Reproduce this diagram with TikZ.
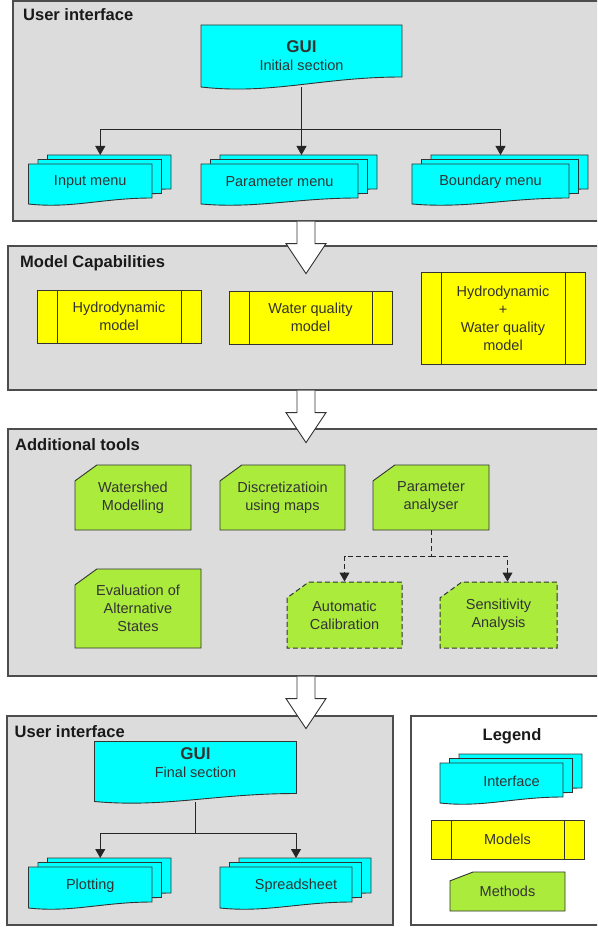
\documentclass[tikz,border=0pt]{standalone}
\usepackage{fontspec}
\setmainfont{Liberation Sans}
\usepackage{xcolor}
\usetikzlibrary{arrows.meta, shapes.misc, positioning, calc}
\definecolor{panelgray}{HTML}{DCDCDC}
\definecolor{framegray}{HTML}{4D4D4D}
\definecolor{guicyan}{HTML}{00FFFF}
\definecolor{modelyellow}{HTML}{FFFF00}
\definecolor{methodgreen}{HTML}{ABEB3C}

\tikzset{
    panel/.style={draw=framegray, line width=1.2pt, fill=panelgray},
    paneltitle/.style={font=\fontsize{16.5}{19}\selectfont\bfseries, text=black!90, anchor=west, inner sep=0pt},
    txt/.style={font=\fontsize{14.5}{18}\selectfont, align=center, text=black!80, inner sep=0pt},
    doc/.style={draw=black!80, fill=guicyan, line width=0.9pt},
    model/.style={txt, draw=black!80, fill=modelyellow, line width=0.9pt,
        path picture={
            \draw[black!80, line width=0.9pt]
                ([xshift=20pt]path picture bounding box.north west) -- ([xshift=20pt]path picture bounding box.south west)
                ([xshift=-20pt]path picture bounding box.north east) -- ([xshift=-20pt]path picture bounding box.south east);
        }},
    method/.style={txt, chamfered rectangle, chamfered rectangle corners=north west,
        chamfered rectangle angle=54, chamfered rectangle xsep=17pt,
        draw=black!80, fill=methodgreen, line width=0.9pt},
    dashedline/.style={dash pattern=on 5pt off 3pt, line width=1pt},
    arr/.style={-{Triangle[width=10pt,length=9pt]}, draw=black!85, line width=0.8pt},
    hollow/.style={draw=black!80, fill=white, line width=0.9pt}
}

% document shape: style, x1, y1, x2, y2 (left bottom), rise of the right end
\newcommand{\docshape}[6]{%
    \filldraw[#1] (#2,#3) -- (#4,#3) -- (#4,#5-#6)
        .. controls ({#2+0.6*(#4-#2)},#5-#6) and ({#2+0.35*(#4-#2)},#5+0.8*#6) .. (#2,#5) -- cycle;
}
% single document box with text
\newcommand{\docbox}[8][]{%
    \docshape{doc}{#3}{#4}{#5}{#6}{#7}
    \node[txt, minimum width=#5pt-#3pt, minimum height=#6pt-#4pt, #1] (#2) at ({(#3+#5)/2},{(#4+#6)/2}) {#8};
}
% stacked document box (three sheets)
\newcommand{\stackbox}[7][]{%
    \docshape{doc, shift={(19,-9)}}{#3}{#4}{#5}{#6}{6}
    \docshape{doc, shift={(9.5,-4.5)}}{#3}{#4}{#5}{#6}{6}
    \docshape{doc}{#3}{#4}{#5}{#6}{6}
    \node[txt, minimum width=#5pt-#3pt, minimum height=#6pt-#4pt, #1] (#2) at ({(#3+#5)/2},{(#4+#6)/2-2}) {#7};
    \coordinate (#2-top) at ({(#3+#5)/2+10},#4-9);
}
% hollow arrow leaving a panel
\newcommand{\bigarrow}[1]{%
    \draw[hollow] ([xshift=-9pt]#1.south) -- ++(0,22) -- ++(-11,0) -- ++(20,30) -- ++(20,-30) -- ++(-11,0) -- ++(0,-22);
}

\begin{document}
\begin{tikzpicture}[x=1pt, y=-1pt]
    \clip (0,0) rectangle (597,928);

    % Panels
    \node[panel, minimum width=586pt, minimum height=220pt] (ui1) at (306,111) {};
    \node[panel, minimum width=596pt, minimum height=144pt] (caps) at (306,318) {};
    \node[panel, minimum width=596pt, minimum height=247pt] (tools) at (306,552.5) {};
    \node[panel, minimum width=386pt, minimum height=209pt] (ui2) at (200,820.5) {};
    \node[panel, fill=white, minimum width=194pt, minimum height=209pt] (legend) at (508,820.5) {};

    \node[paneltitle] (t-ui1) at (23,15) {User interface};
    \node[paneltitle] (t-caps) at (20,263) {Model Capabilities};
    \node[paneltitle] (t-tools) at (15,445) {Additional tools};
    \node[paneltitle] (t-ui2) at (14.5,732) {User interface};
    \node[paneltitle, anchor=center] (t-legend) at (512,736) {Legend};

    % Hollow arrows between panels
    \bigarrow{ui1}
    \bigarrow{caps}
    \bigarrow{tools}

    % User interface - initial section
    \docbox{gui}{201}{25}{402}{87}{10}{{\fontsize{17}{20}\selectfont\bfseries GUI}\\Initial section}
    \stackbox{input}{28.5}{164}{152}{204}{Input menu}
    \stackbox{param}{201}{164}{358}{204}{Parameter menu}
    \stackbox{bound}{412}{164}{569}{204}{Boundary menu}

    \path (gui.south) ++(0,42) coordinate (split1);
    \draw[arr] (gui.south) -- (gui.south |- param-top);
    \draw[arr] (split1) -| (input-top);
    \draw[arr] (split1) -| (bound-top);

    % Model capabilities
    \node[model, minimum width=164pt, minimum height=53pt] (hydro) at (119,316.5) {Hydrodynamic\\model};
    \node[model, minimum width=163pt, minimum height=53pt] (wq) at (310.5,317.5) {Water quality\\model};
    \node[model, minimum width=164pt, minimum height=92pt] (hydrowq) at (503,318) {Hydrodynamic\\+\\Water quality\\model};

    % Additional tools
    \node[method, minimum width=116pt, minimum height=65pt] (shed) at (133,497.5) {Watershed\\Modelling};
    \node[method, minimum width=125pt, minimum height=65pt] (discr) at (282.5,497.5) {Discretizatioin\\using maps};
    \node[method, minimum width=116pt, minimum height=65pt] (pa) at (431,497.5) {Parameter\\analyser};
    \node[method, minimum width=126pt, minimum height=79pt] (eval) at (138,608.5) {Evaluation of\\Alternative\\States};
    \node[method, dashedline, minimum width=115pt, minimum height=66pt] (calib) at (344.5,615) {Automatic\\Calibration};
    \node[method, dashedline, minimum width=117pt, minimum height=66pt] (sens) at (498.5,615) {Sensitivity\\Analysis};

    \draw[arr, dashedline] (pa.south) -- ++(0,26) coordinate (split3) -| (calib.north);
    \draw[arr, dashedline] (split3) -| ([xshift=9pt]sens.north);

    % User interface - final section
    \docbox[text depth=18pt]{guif}{94.5}{741.5}{296.5}{801.5}{8}{{\fontsize{17}{20}\selectfont\bfseries GUI}\\Final section}
    \stackbox{plot}{28.5}{867}{152}{908}{Plotting}
    \stackbox[xshift=10pt]{sheet}{220}{867}{352}{908}{Spreadsheet}

    \path (guif.south) ++(0,32) coordinate (split2);
    \draw[draw=black!85, line width=0.8pt] (guif.south) -- (split2);
    \draw[arr] (split2) -| (plot-top);
    \draw[arr] (split2) -| (sheet-top);

    % Legend
    \stackbox[xshift=10pt]{iface}{440}{763}{563}{803}{Interface}
    \node[model, minimum width=153pt, minimum height=39pt] (lmodel) at (507.5,839.5) {Models};
    \node[method, chamfered rectangle angle=69, chamfered rectangle xsep=21pt, minimum width=115pt, minimum height=39pt] (lmethod) at (507.5,891.5) {Methods};
\end{tikzpicture}
\end{document}
